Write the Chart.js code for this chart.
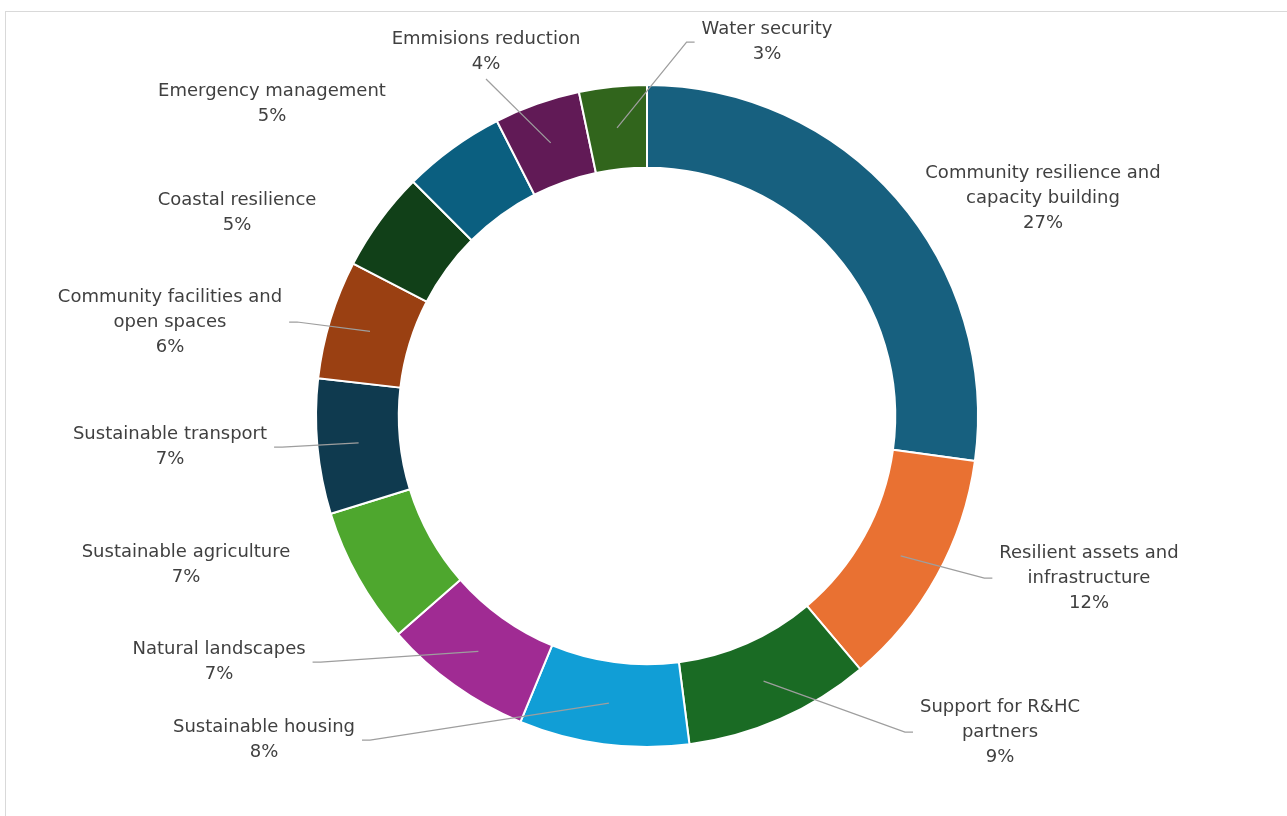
<!DOCTYPE html>
<html>
<head>
<meta charset="utf-8">
<script src="https://cdn.jsdelivr.net/npm/chart.js@4.4.1/dist/chart.umd.min.js"></script>
<style>
  html, body { margin: 0; padding: 0; background: #fff; overflow: hidden; }
  #frame { position: absolute; left: 5px; top: 11px; width: 1320px; height: 840px; border: 1px solid #d9d9d9; }
  #donut { position: absolute; left: 0; top: 0; }
</style>
</head>
<body>
<div id="frame"></div>
<canvas id="donut" width="1287" height="816"></canvas>
<script>
// categories, clockwise from 12 o'clock (multi-line names as arrays)
const categories = [
  ["Community resilience and", "capacity building"],
  ["Resilient assets and", "infrastructure"],
  ["Support for R&HC", "partners"],
  "Sustainable housing",
  "Natural landscapes",
  "Sustainable agriculture",
  "Sustainable transport",
  ["Community facilities and", "open spaces"],
  "Coastal resilience",
  "Emergency management",
  "Emmisions reduction",
  "Water security",
];
const shares = [27.2, 11.7, 9.1, 8.3, 7.3, 6.7, 6.6, 5.8, 4.9, 5.0, 4.2, 3.3];
const sliceColors = [
  "#17607f", "#e97132", "#1a6b24", "#119ed6", "#a02b93", "#4ea72e",
  "#0f3a4f", "#9a4012", "#114018", "#0b5f80", "#611a56", "#31651c",
];

// label placement: offset of label block centre from donut centre, and where the leader attaches
const labelSpots = [
  { dx: 396, dy: -218, side: null },
  { dx: 442, dy: 162, side: "left" },
  { dx: 353, dy: 316, side: "left" },
  { dx: -383, dy: 324, side: "right" },
  { dx: -428, dy: 246, side: "right" },
  { dx: -461, dy: 149, side: null },
  { dx: -477, dy: 31, side: "right" },
  { dx: -477, dy: -94, side: "right" },
  { dx: -410, dy: -203, side: null },
  { dx: -375, dy: -312, side: null },
  { dx: -161, dy: -364, side: "bottom" },
  { dx: 120, dy: -374, side: "left" },
];

const LINE_H = 25;
const FONT = "18px 'DejaVu Sans'";

const sliceLabels = {
  id: "sliceLabels",
  afterDraw(chart) {
    const ctx = chart.ctx;
    const meta = chart.getDatasetMeta(0);
    const total = shares.reduce((a, b) => a + b, 0);
    ctx.save();
    ctx.font = FONT;
    ctx.textAlign = "center";
    ctx.textBaseline = "middle";
    meta.data.forEach((arc, i) => {
      const p = arc.getProps(["x", "y", "startAngle", "endAngle", "innerRadius", "outerRadius"], true);
      const mid = (p.startAngle + p.endAngle) / 2;
      const r = (p.innerRadius + p.outerRadius) / 2;
      const ax = p.x + Math.cos(mid) * r;
      const ay = p.y + Math.sin(mid) * r;

      const names = Array.isArray(categories[i]) ? categories[i] : [categories[i]];
      const lines = [...names, Math.round((shares[i] / total) * 100) + "%"];
      const spot = labelSpots[i];
      const cx = p.x + spot.dx;
      const cy = p.y + spot.dy;
      const width = Math.max(...lines.map((t) => ctx.measureText(t).width));
      const top = cy - (lines.length * LINE_H) / 2;

      if (spot.side) {
        ctx.strokeStyle = "#9e9e9e";
        ctx.lineWidth = 1.25;
        ctx.beginPath();
        ctx.moveTo(ax, ay);
        if (spot.side === "left") {
          const ex = cx - width / 2 - 7;
          ctx.lineTo(ex - 8, cy);
          ctx.lineTo(ex, cy);
        } else if (spot.side === "right") {
          const ex = cx + width / 2 + 7;
          ctx.lineTo(ex + 8, cy);
          ctx.lineTo(ex, cy);
        } else {
          ctx.lineTo(cx, top + lines.length * LINE_H + 2);
        }
        ctx.stroke();
      }

      ctx.fillStyle = "#404040";
      lines.forEach((t, k) => ctx.fillText(t, cx, top + LINE_H / 2 + k * LINE_H));
    });
    ctx.restore();
  },
};

new Chart(document.getElementById("donut"), {
  type: "doughnut",
  data: {
    labels: categories,
    datasets: [{
      data: shares,
      backgroundColor: sliceColors,
      borderColor: "#ffffff",
      borderWidth: 2,
    }],
  },
  options: {
    responsive: false,
    animation: false,
    cutout: "75%",
    layout: { padding: { left: 315, right: 308, top: 84, bottom: 68 } },
    plugins: { legend: { display: false }, tooltip: { enabled: false } },
  },
  plugins: [sliceLabels],
});
</script>
</body>
</html>
